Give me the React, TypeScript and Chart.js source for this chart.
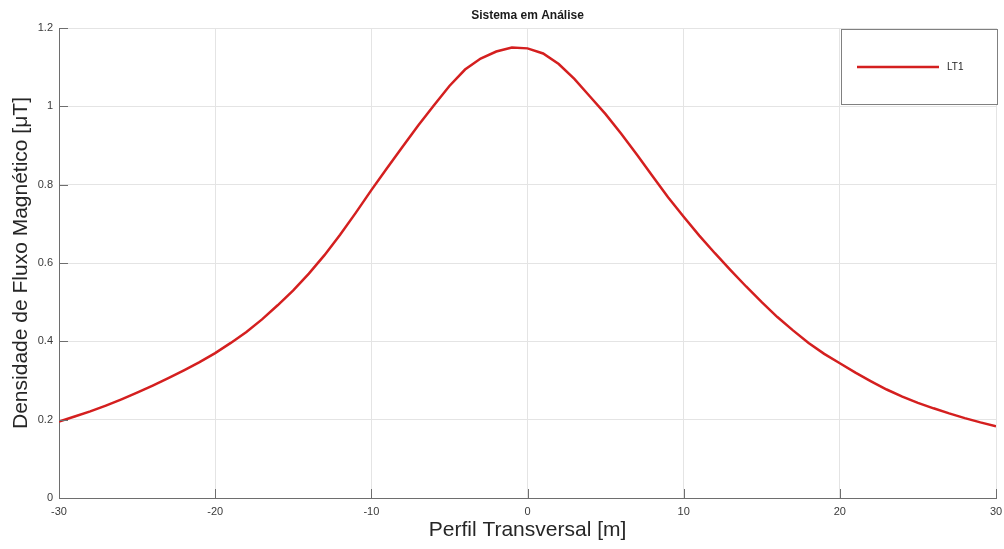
import React, { useEffect, useRef } from "react";
import { Chart, registerables } from "chart.js";

Chart.register(...registerables);

const TITLE = "Sistema em Análise";
const X_TITLE = "Perfil Transversal [m]";
const Y_TITLE = "Densidade de Fluxo Magnético [μT]";
const SERIES_LABEL = "LT1";

const X_VALUES = [
  -30, -29, -28, -27, -26, -25, -24, -23, -22, -21,
  -20, -19, -18, -17, -16, -15, -14, -13, -12, -11,
  -10, -9, -8, -7, -6, -5, -4, -3, -2, -1,
  0, 1, 2, 3, 4, 5, 6, 7, 8, 9,
  10, 11, 12, 13, 14, 15, 16, 17, 18, 19,
  20, 21, 22, 23, 24, 25, 26, 27, 28, 29, 30,
];

const Y_VALUES = [
  0.195, 0.208, 0.221, 0.236, 0.252, 0.269, 0.287, 0.306, 0.326, 0.347,
  0.370, 0.396, 0.424, 0.456, 0.492, 0.530, 0.573, 0.620, 0.672, 0.728,
  0.786, 0.842, 0.897, 0.951, 1.002, 1.052, 1.094, 1.122, 1.140, 1.150,
  1.148, 1.135, 1.108, 1.070, 1.025, 0.980, 0.930, 0.877, 0.822, 0.768,
  0.718, 0.670, 0.625, 0.582, 0.540, 0.500, 0.462, 0.428, 0.396, 0.368,
  0.344, 0.320, 0.298, 0.277, 0.259, 0.243, 0.229, 0.216, 0.204, 0.193, 0.183,
];

const X_TICKS = [-30, -20, -10, 0, 10, 20, 30];
const X_TICK_LABELS = ["-30", "-20", "-10", "0", "10", "20", "30"];
const Y_TICKS = [0, 0.2, 0.4, 0.6, 0.8, 1, 1.2];
const Y_TICK_LABELS = ["0", "0.2", "0.4", "0.6", "0.8", "1", "1.2"];

const FONT = '"Liberation Sans", Arial, Helvetica, sans-serif';
const LINE_COLOR = "#d41f1f";
const AXIS_COLOR = "#6e6e6e";
const GRID_COLOR = "#e4e4e4";
const TEXT_COLOR = "#3a3a3a";

const overlayPlugin = {
  id: "overlay",
  afterDraw(chart: any) {
    const { ctx, chartArea: a, scales } = chart;
    const xs = scales.x;
    const ys = scales.y;
    ctx.save();

    // inward tick marks
    ctx.strokeStyle = AXIS_COLOR;
    ctx.lineWidth = 1;
    ctx.beginPath();
    X_TICKS.forEach((v) => {
      const px = Math.round(xs.getPixelForValue(v)) + 0.5;
      ctx.moveTo(px, a.bottom);
      ctx.lineTo(px, a.bottom - 9);
    });
    Y_TICKS.forEach((v) => {
      const py = Math.round(ys.getPixelForValue(v)) + 0.5;
      ctx.moveTo(a.left, py);
      ctx.lineTo(a.left + 9, py);
    });
    ctx.stroke();

    // title
    ctx.fillStyle = "#1a1a1a";
    ctx.textAlign = "center";
    ctx.textBaseline = "middle";
    ctx.font = `bold 12px ${FONT}`;
    ctx.fillText(TITLE, (a.left + a.right) / 2, 16);

    // axis titles
    ctx.fillStyle = "#262626";
    ctx.font = `21px ${FONT}`;
    ctx.fillText(X_TITLE, (a.left + a.right) / 2, 530);
    ctx.save();
    ctx.translate(21, (a.top + a.bottom) / 2);
    ctx.rotate(-Math.PI / 2);
    ctx.fillText(Y_TITLE, 0, 0);
    ctx.restore();

    // legend box
    const ds = chart.data.datasets[0];
    ctx.fillStyle = "#ffffff";
    ctx.fillRect(841.5, 29.5, 156, 75);
    ctx.strokeStyle = "#808080";
    ctx.lineWidth = 1;
    ctx.strokeRect(841.5, 29.5, 156, 75);
    ctx.strokeStyle = ds.borderColor;
    ctx.lineWidth = 2.5;
    ctx.beginPath();
    ctx.moveTo(857, 67);
    ctx.lineTo(939, 67);
    ctx.stroke();
    ctx.fillStyle = "#262626";
    ctx.textAlign = "left";
    ctx.font = `10px ${FONT}`;
    ctx.fillText(ds.label, 947, 67);

    ctx.restore();
  },
};

export default function App() {
  const canvasRef = useRef<HTMLCanvasElement | null>(null);

  useEffect(() => {
    const canvas = canvasRef.current;
    if (!canvas) return;
    const points = X_VALUES.map((x, i) => ({ x, y: Y_VALUES[i] }));
    const chart = new Chart(canvas, {
      type: "line",
      data: {
        datasets: [
          {
            label: SERIES_LABEL,
            data: points,
            borderColor: LINE_COLOR,
            backgroundColor: LINE_COLOR,
            borderWidth: 2.5,
            pointRadius: 0,
            tension: 0,
            fill: false,
          },
        ],
      },
      options: {
        animation: false,
        responsive: false,
        layout: { padding: { left: 0, top: 28, right: 8, bottom: 0 } },
        plugins: {
          legend: { display: false },
          title: { display: false },
          tooltip: { enabled: false },
        },
        scales: {
          x: {
            type: "linear",
            min: -30,
            max: 30,
            afterBuildTicks: (scale: any) => {
              scale.ticks = X_TICKS.map((v) => ({ value: v }));
            },
            afterFit: (scale: any) => {
              scale.height = 51;
              scale.paddingLeft = 0;
              scale.paddingRight = 0;
            },
            grid: { color: GRID_COLOR, lineWidth: 1, drawTicks: false },
            border: { display: true, color: AXIS_COLOR, width: 1 },
            ticks: {
              padding: 7,
              color: TEXT_COLOR,
              font: { family: FONT, size: 11 },
              maxRotation: 0,
              autoSkip: false,
              callback: (_v: any, i: number) => X_TICK_LABELS[i],
            },
          },
          y: {
            type: "linear",
            min: 0,
            max: 1.2,
            afterBuildTicks: (scale: any) => {
              scale.ticks = Y_TICKS.map((v) => ({ value: v }));
            },
            afterFit: (scale: any) => {
              scale.width = 59;
              scale.paddingTop = 0;
              scale.paddingBottom = 0;
            },
            grid: { color: GRID_COLOR, lineWidth: 1, drawTicks: false },
            border: { display: true, color: AXIS_COLOR, width: 1 },
            ticks: {
              padding: 6,
              color: TEXT_COLOR,
              font: { family: FONT, size: 11 },
              autoSkip: false,
              callback: (_v: any, i: number) => Y_TICK_LABELS[i],
            },
          },
        },
      },
      plugins: [overlayPlugin],
    });
    return () => chart.destroy();
  }, []);

  return (
    <div style={{ position: "absolute", left: 0, top: 0, width: 1004, height: 549, background: "#ffffff" }}>
      <canvas ref={canvasRef} width={1004} height={549} style={{ display: "block" }} />
    </div>
  );
}
